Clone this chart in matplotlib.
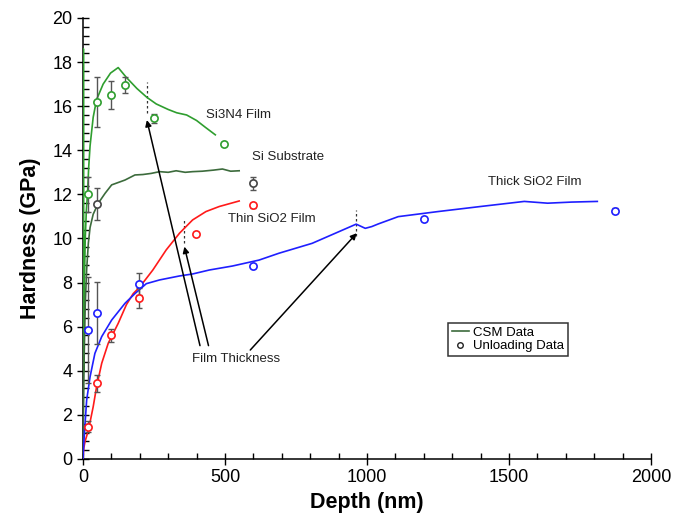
import matplotlib
matplotlib.use("Agg")
import matplotlib.pyplot as plt
from matplotlib.lines import Line2D
from matplotlib.ticker import MultipleLocator

plt.rcParams['font.family'] = ['Liberation Sans', 'DejaVu Sans']

# CSM hardness curves (depth nm, hardness GPa)
si3n4_depth = [0, 1.5, 3, 5, 8, 12, 16, 20, 25, 36, 48, 71, 97, 124, 153, 190, 225,
               258, 300, 330, 365, 400, 430, 466]
si3n4_hard = [0, 18.6, 4.0, 8.0, 10.0, 11.3, 12.0, 13.2, 14.2, 15.5, 16.3, 17.0, 17.5,
              17.75, 17.3, 16.8, 16.4, 16.1, 15.85, 15.7, 15.6, 15.35, 15.05, 14.7]

si_depth = [0, 4, 8, 13, 19, 25, 36, 54, 78, 101, 148, 183, 211, 240, 270, 300, 328,
            360, 386, 420, 460, 491, 520, 550]
si_hard = [0, 4.5, 7.0, 8.6, 9.8, 10.5, 11.1, 11.6, 12.05, 12.43, 12.65, 12.88, 12.9,
           12.95, 13.03, 13.0, 13.07, 13.0, 13.03, 13.05, 13.1, 13.15, 13.05, 13.07]

thin_depth = [0, 3, 7, 19, 36, 48, 66, 89, 124, 153, 177, 200, 246, 293, 340, 386,
              433, 480, 550]
thin_hard = [0, 0.5, 0.78, 1.3, 2.37, 3.28, 4.34, 5.25, 6.15, 7.0, 7.5, 7.8, 8.57,
             9.48, 10.24, 10.84, 11.22, 11.45, 11.7]

thick_depth = [0, 5, 13, 25, 42, 66, 101, 148, 183, 223, 270, 340, 386, 445, 526, 620,
               690, 807, 889, 962, 994, 1017, 1040, 1110, 1250, 1400, 1554, 1636, 1720,
               1811]
thick_hard = [0, 1.16, 2.67, 3.73, 4.79, 5.55, 6.3, 7.06, 7.5, 7.95, 8.12, 8.3, 8.39,
              8.57, 8.75, 9.02, 9.33, 9.78, 10.24, 10.65, 10.46, 10.54, 10.66, 10.99,
              11.22, 11.45, 11.68, 11.6, 11.65, 11.68]

# unloading data with error bars
si3n4_u_depth = [16, 48, 98, 149, 249, 498]
si3n4_u_hard = [12.0, 16.2, 16.5, 16.96, 15.45, 14.29]
si3n4_u_err = [0.8, 1.13, 0.62, 0.38, 0.2, 0.1]

si_u_depth = [48, 598]
si_u_hard = [11.56, 12.5]
si_u_err = [0.72, 0.3]

thin_u_depth = [16, 48, 98, 198, 398, 598]
thin_u_hard = [1.47, 3.43, 5.6, 7.29, 10.2, 11.5]
thin_u_err = [0.25, 0.4, 0.3, 0.45, 0.1, 0.1]

thick_u_depth = [16, 48, 198, 600, 1200, 1875]
thick_u_hard = [5.85, 6.61, 7.94, 8.75, 10.87, 11.26]
thick_u_err = [2.4, 1.4, 0.5, 0.1, 0.1, 0.1]

GREEN = '#2f9e2f'
DKGREEN = '#3c6b3c'
RED = '#ff1a1a'
BLUE = '#1f1fff'
GRAY = '#555555'

fig = plt.figure(figsize=(6.88, 5.13), dpi=100)
ax = fig.add_axes([0.1206, 0.1053, 0.8256, 0.8597])

ax.plot(si3n4_depth, si3n4_hard, color=GREEN, lw=1.2, zorder=3)
ax.plot(si_depth, si_hard, color=DKGREEN, lw=1.2, zorder=3)
ax.plot(thin_depth, thin_hard, color=RED, lw=1.2, zorder=3)
ax.plot(thick_depth, thick_hard, color=BLUE, lw=1.2, zorder=3)

for d, h, e, c in [(si3n4_u_depth, si3n4_u_hard, si3n4_u_err, GREEN),
                   (si_u_depth, si_u_hard, si_u_err, '#444444'),
                   (thin_u_depth, thin_u_hard, thin_u_err, RED),
                   (thick_u_depth, thick_u_hard, thick_u_err, BLUE)]:
    ax.errorbar(d, h, yerr=e, fmt='none', ecolor=GRAY, elinewidth=1, capsize=2.5,
                capthick=1, zorder=4)
    ax.plot(d, h, 'o', ms=5.2, mfc='white', mec=c, mew=1.2, ls='none', zorder=5)

# film thickness markers
for x0, y0, y1 in [(225, 15.7, 17.1), (357, 9.8, 10.84), (962, 10.1, 11.3)]:
    ax.plot([x0, x0], [y0, y1], color='#333333', lw=0.9, ls=(0, (2, 2)), zorder=2)

arrow = dict(arrowstyle='-|>', color='black', lw=1.1, mutation_scale=9,
             shrinkA=0, shrinkB=0)
ax.annotate('', xy=(225, 15.37), xytext=(412, 5.14), arrowprops=arrow)
ax.annotate('', xy=(357, 9.63), xytext=(442, 5.14), arrowprops=arrow)
ax.annotate('', xy=(964, 10.24), xytext=(589, 4.94), arrowprops=arrow)

txt = dict(fontsize=9.5, color='#222222', ha='center', va='center')
ax.text(539, 4.55, 'Film Thickness', **txt)
ax.text(549, 15.61, 'Si3N4 Film', **txt)
ax.text(723, 13.71, 'Si Substrate', **txt)
ax.text(665, 10.9, 'Thin SiO2 Film', **txt)
ax.text(1590, 12.54, 'Thick SiO2 Film', **txt)

handles = [Line2D([], [], color=DKGREEN, lw=1.2),
           Line2D([], [], ls='none', marker='o', ms=4, mfc='white', mec='#222222',
                  mew=1)]
leg = ax.legend(handles, ['CSM Data', 'Unloading Data'], loc='upper left',
                bbox_to_anchor=(0.642, 0.309), fontsize=9.5, frameon=True,
                fancybox=False, borderpad=0.3, handlelength=1.3, handletextpad=0.3,
                labelspacing=0.1, borderaxespad=0)
leg.get_frame().set_edgecolor('black')
leg.get_frame().set_linewidth(1.1)

ax.set_xlim(0, 2000)
ax.set_ylim(0, 20)
ax.xaxis.set_major_locator(MultipleLocator(500))
ax.xaxis.set_minor_locator(MultipleLocator(100))
ax.yaxis.set_major_locator(MultipleLocator(2))
ax.yaxis.set_minor_locator(MultipleLocator(0.4))
ax.tick_params(which='major', direction='inout', length=8, width=1, labelsize=13)
ax.tick_params(which='minor', direction='in', length=4, width=1)

for s in ['top', 'right']:
    ax.spines[s].set_visible(False)
for s in ['left', 'bottom']:
    ax.spines[s].set_linewidth(1.1)

ax.set_xlabel('Depth (nm)', fontsize=15.5, fontweight='bold', labelpad=4)
ax.set_ylabel('Hardness (GPa)', fontsize=15.5, fontweight='bold', labelpad=8)

fig.savefig('out.png', dpi=100)
